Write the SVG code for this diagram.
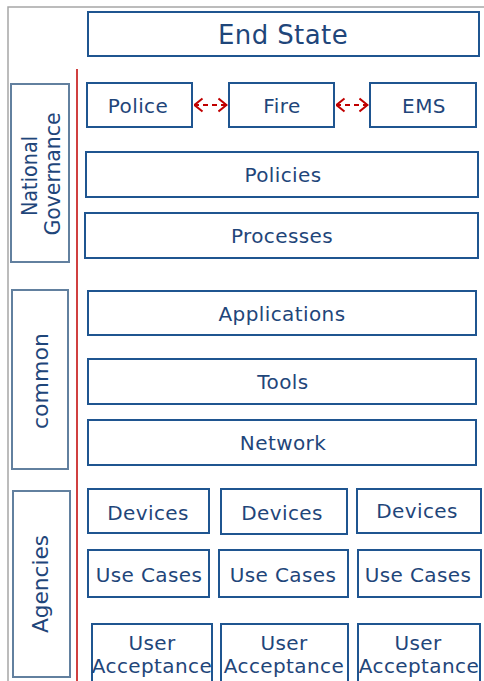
<svg xmlns="http://www.w3.org/2000/svg" width="484" height="681" viewBox="0 0 484 681">
<style>
.box{fill:#fff;stroke:#1f5590;stroke-width:2}
.side{fill:#fff;stroke:#62809f;stroke-width:2}
text{font-family:"DejaVu Sans",Verdana,sans-serif;font-size:20px;fill:#1f467a;text-anchor:middle;letter-spacing:0.4px}
.big{font-size:26px;letter-spacing:0.4px}
.lbl{font-size:22px;letter-spacing:0}
.frame{stroke:#a6a6a6;stroke-width:1.5;fill:none}
.red{stroke:#c00000;stroke-width:1.5;fill:none}
.arr{stroke:#c00000;stroke-width:2;fill:none;stroke-dasharray:5 4}
</style>
<defs>
<marker id="chev" viewBox="0 0 10 16" refX="9.5" refY="8" markerWidth="10" markerHeight="16" orient="auto-start-reverse" markerUnits="userSpaceOnUse">
<path d="M1,1.5 L9,8 L1,14.5" fill="none" stroke="#c00000" stroke-width="2"/>
</marker>
</defs>
<rect width="484" height="681" fill="#fff"/>
<path class="frame" d="M484,7 H8 V681"/>
<line class="red" x1="77" y1="69" x2="77" y2="681"/>

<g id="end-state"><rect class="box" x="88" y="12" width="391" height="44"/><text class="big" x="283" y="44">End State</text></g>

<g id="national-governance"><rect class="side" x="11" y="84" width="58" height="178"/>
<text class="lbl" transform="translate(37,176) rotate(-90)" textLength="80" lengthAdjust="spacingAndGlyphs">National</text>
<text class="lbl" transform="translate(60,174) rotate(-90)" textLength="123" lengthAdjust="spacingAndGlyphs">Governance</text></g>
<g id="common"><rect class="side" x="12" y="290" width="56" height="179"/>
<text class="lbl" transform="translate(48,381) rotate(-90)" textLength="96" lengthAdjust="spacingAndGlyphs">common</text></g>
<g id="agencies"><rect class="side" x="13" y="491" width="57" height="186"/>
<text class="lbl" transform="translate(48,584) rotate(-90)" textLength="98" lengthAdjust="spacingAndGlyphs">Agencies</text></g>

<g id="police"><rect class="box" x="87" y="83" width="105" height="44"/><text x="138" y="113">Police</text></g>
<g id="fire"><rect class="box" x="229" y="83" width="105" height="44"/><text x="282" y="113">Fire</text></g>
<g id="ems"><rect class="box" x="370" y="83" width="106" height="44"/><text x="424" y="113">EMS</text></g>

<g id="policies"><rect class="box" x="86" y="152" width="392" height="45"/><text x="283" y="182">Policies</text></g>
<g id="processes"><rect class="box" x="85" y="213" width="393" height="45"/><text x="282" y="243">Processes</text></g>
<g id="applications"><rect class="box" x="88" y="291" width="388" height="44"/><text x="282" y="321">Applications</text></g>
<g id="tools"><rect class="box" x="88" y="359" width="388" height="45"/><text x="283" y="389">Tools</text></g>
<g id="network"><rect class="box" x="88" y="420" width="388" height="45"/><text x="283" y="450">Network</text></g>

<g id="devices-1"><rect class="box" x="88" y="489" width="121" height="44"/><text x="148" y="520">Devices</text></g>
<g id="devices-2"><rect class="box" x="221" y="489" width="126" height="45"/><text x="282" y="520">Devices</text></g>
<g id="devices-3"><rect class="box" x="357" y="489" width="124" height="44"/><text x="417" y="518">Devices</text></g>

<g id="use-cases-1"><rect class="box" x="88" y="550" width="121" height="47"/><text x="149" y="582">Use Cases</text></g>
<g id="use-cases-2"><rect class="box" x="219" y="550" width="129" height="47"/><text x="283" y="582">Use Cases</text></g>
<g id="use-cases-3"><rect class="box" x="358" y="550" width="123" height="47"/><text x="418" y="582">Use Cases</text></g>

<g id="user-acceptance-1"><rect class="box" x="92" y="624" width="120" height="70"/><text x="152" y="650">User</text><text x="152" y="673">Acceptance</text></g>
<g id="user-acceptance-2"><rect class="box" x="221" y="624" width="127" height="70"/><text x="284" y="650">User</text><text x="284" y="673">Acceptance</text></g>
<g id="user-acceptance-3"><rect class="box" x="358" y="624" width="122" height="70"/><text x="418" y="650">User</text><text x="419" y="673">Acceptance</text></g>

<g id="connectors">
<line class="arr" x1="194" y1="105" x2="227" y2="105" marker-start="url(#chev)" marker-end="url(#chev)"/>
<line class="arr" x1="336" y1="105" x2="368" y2="105" marker-start="url(#chev)" marker-end="url(#chev)"/>
</g>
</svg>
